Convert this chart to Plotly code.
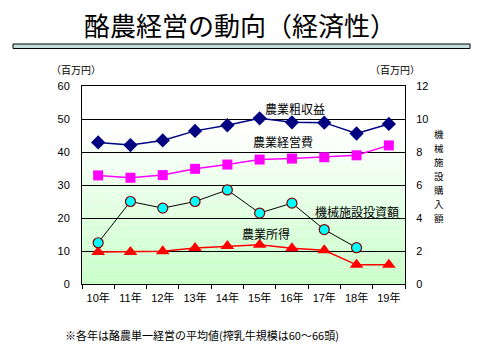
import plotly.graph_objects as go

years = ["10年", "11年", "12年", "13年", "14年", "15年", "16年", "17年", "18年", "19年"]
gross_revenue = [42.9, 42.1, 43.5, 46.4, 48.1, 50.2, 49.0, 48.9, 45.6, 48.5]   # 農業粗収益
operating_cost = [32.9, 32.2, 33.0, 34.9, 36.2, 37.7, 38.0, 38.4, 39.0, 42.0]  # 農業経営費
farm_income = [9.7, 9.7, 9.9, 10.9, 11.5, 11.9, 10.8, 10.2, 5.8, 5.8]         # 農業所得
machine_invest = [2.5, 5.0, 4.6, 5.0, 5.7, 4.3, 4.9, 3.3, 2.2, None]          # 機械施設投資額 (right axis)

left_ticks = [0, 10, 20, 30, 40, 50, 60]
right_ticks = [0, 2, 4, 6, 8, 10, 12]
right_title = "機械施設購入額"

JP = "Noto Sans CJK JP"
NUM = "Liberation Sans, Noto Sans CJK JP"

W, H = 483, 361
PL, PR, PT, PB = 82, 405, 86, 284  # plot area in window pixels


def px(x):
    return (x - PL) / (PR - PL)


def py(y):
    return (PB - y) / (PB - PT)


fig = go.Figure()

fig.add_trace(go.Scatter(x=years, y=gross_revenue, mode="lines+markers",
                         line=dict(color="#000080", width=1.5),
                         marker=dict(symbol="diamond", size=11, color="#000080"),
                         showlegend=False))
fig.add_trace(go.Scatter(x=years, y=operating_cost, mode="lines+markers",
                         line=dict(color="#ff00ff", width=1.5),
                         marker=dict(symbol="square", size=10, color="#ff00ff"),
                         showlegend=False))
fig.add_trace(go.Scatter(x=years, y=machine_invest, mode="lines+markers", yaxis="y2",
                         line=dict(color="#000000", width=1),
                         marker=dict(symbol="circle", size=10, color="#00ffff",
                                     line=dict(color="#800000", width=1.2)),
                         showlegend=False))
fig.add_trace(go.Scatter(x=years, y=farm_income, mode="lines+markers",
                         line=dict(color="#ff0000", width=1.5),
                         marker=dict(symbol="triangle-up", size=12, color="#ff0000"),
                         showlegend=False))

# gradient background of plot area (white at top -> light green at bottom)
shapes = []
n = 60
for i in range(n):
    y0 = i / n
    y1 = (i + 1) / n
    t = (y0 + y1) / 2
    f = min(1.0, t / 0.78)
    r = int(200 + (255 - 200) * f)
    shapes.append(dict(type="rect", xref="paper", yref="paper", x0=0, x1=1, y0=y0, y1=y1,
                       fillcolor=f"rgb({r},255,{r})", line=dict(width=0), layer="below"))
# title underline bar
shapes.append(dict(type="rect", xref="paper", yref="paper",
                   x0=px(13), x1=px(470), y0=py(48.5), y1=py(44),
                   fillcolor="#c4dede", line=dict(color="#000000", width=1)))


def ann(text, x, y, size, xanchor="center"):
    return dict(text=text, xref="paper", yref="paper", x=px(x), y=py(y), showarrow=False,
                xanchor=xanchor, yanchor="middle",
                font=dict(family=JP, size=size, color="#000000"))


annotations = [
    ann("酪農経営の動向（経済性）", 240, 25, 26),
    ann("（百万円）", 76, 70, 10),
    ann("（百万円）", 395, 70, 10),
    ann("農業粗収益", 295, 108, 12),
    ann("農業経営費", 283, 141, 12),
    ann("機械施設投資額", 357, 211, 12),
    ann("農業所得", 266, 233, 12),
    ann("※各年は酪農単一経営の平均値(搾乳牛規模は60～66頭)", 63, 335, 11, xanchor="left"),
]
# vertical (stacked) right-axis title, one character per line
step = 13.9
for i, ch in enumerate(right_title):
    annotations.append(ann(ch, 439, 176 + (i - 3) * step, 9.5))

fig.update_layout(
    width=W, height=H,
    margin=dict(l=PL, r=W - PR, t=PT, b=H - PB),
    paper_bgcolor="#ffffff", plot_bgcolor="#ffffff",
    shapes=shapes, annotations=annotations,
    xaxis=dict(type="category", categoryorder="array", categoryarray=years,
               range=[-0.5, 9.5], showgrid=False, showline=True, linecolor="#000000",
               linewidth=1, mirror=True, ticks="outside", tickson="boundaries",
               ticklen=4, tickcolor="#000000", ticklabelstandoff=4,
               tickfont=dict(family=NUM, size=11, color="#000000")),
    yaxis=dict(range=[0, 60], tickvals=left_ticks, showgrid=True, gridcolor="#000000",
               gridwidth=1, showline=True, linecolor="#000000", linewidth=1, mirror=True,
               zeroline=False, ticks="outside", ticklen=9, tickcolor="rgba(0,0,0,0)",
               tickfont=dict(family=NUM, size=11, color="#000000")),
    yaxis2=dict(range=[0, 12], tickvals=right_ticks, overlaying="y", side="right",
                showgrid=False, zeroline=False, showline=False,
                ticks="outside", ticklen=8, tickcolor="rgba(0,0,0,0)",
                tickfont=dict(family=NUM, size=11, color="#000000")),
)

# remove the browser's default 8px body margin so the figure sits at the window's origin
fig.write_html("out.html", config={"displayModeBar": False},
               post_script="document.body.style.margin='0';")
